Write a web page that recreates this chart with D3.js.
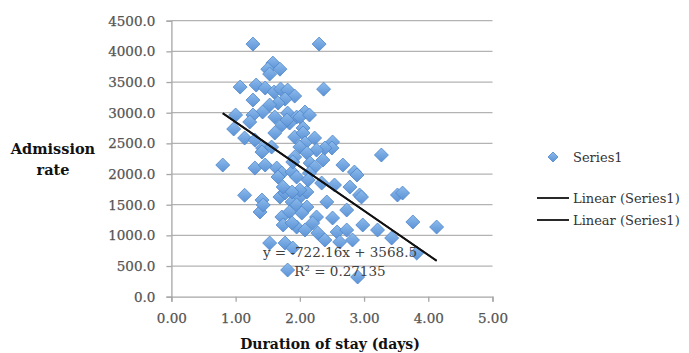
<!DOCTYPE html>
<html><head><meta charset="utf-8">
<script src="https://cdn.jsdelivr.net/npm/d3@7"></script>
<style>body{margin:0;background:#fff}svg{display:block}</style>
</head><body>
<script>
const duration = [0.80,1.27,2.30,2.37,1.07,1.00,0.97,1.58,1.50,1.69,1.53,1.32,1.46,1.60,1.70,1.81,1.92,1.77,1.27,1.66,1.53,1.42,1.27,1.61,1.81,1.95,1.22,1.84,1.72,2.08,2.00,2.05,2.15,1.14,1.61,1.80,1.92,2.05,2.23,2.08,2.51,2.50,2.39,2.26,2.00,1.42,1.30,1.30,1.46,1.64,1.72,1.88,2.11,2.16,2.36,2.23,2.67,2.85,3.27,1.14,1.41,1.38,1.69,1.77,1.88,2.00,2.11,1.72,1.84,1.95,2.11,2.03,2.26,2.42,2.20,1.95,2.08,2.28,2.39,2.51,2.73,2.58,2.73,2.82,2.62,2.98,3.21,3.43,2.93,2.78,2.89,3.52,1.53,1.77,1.89,1.81,2.90,3.60,3.76,4.13,3.82,2.96,2.34,2.15,1.92,1.95,2.13,2.00,1.89,2.54,1.41,1.56,1.66,1.74,1.88,1.43,1.74,1.88];
const admission = [2147,4119,4119,3384,3418,2962,2734,3809,3710,3710,3630,3451,3402,3337,3386,3369,3271,3222,3206,3157,3125,3011,2962,2929,2994,2929,2848,2831,2800,3011,2929,2750,2962,2587,2669,2880,2603,2669,2587,2505,2522,2424,2424,2391,2440,2424,2554,2098,2147,2098,2016,2033,2342,2179,2228,2114,2147,2033,2310,1654,1576,1381,1625,1690,1544,1625,1707,1299,1381,1495,1462,1364,1299,1544,1201,1136,1087,1038,924,1283,1413,1054,1087,924,892,1169,1087,957,1658,1788,1984,1658,875,875,794,435,321,1690,1218,1136,712,1625,1853,2016,2277,1951,1902,1739,2196,1821,2359,2440,1951,1788,1707,1495,1169,1201];
const yTicks = [0,500,1000,1500,2000,2500,3000,3500,4000,4500];
const xTicks = [0,1,2,3,4,5];
const slope = -722.16, intercept = 3568.5;
const eqLabel = "y = -722.16x + 3568.5";
const r2Label = "R² = 0.27135";
const legendLabels = ["Series1","Linear (Series1)","Linear (Series1)"];
const xTitle = "Duration of stay (days)";
const yTitle = ["Admission","rate"];

const W=689,H=353;
const svg=d3.select("body").append("svg").attr("width",W).attr("height",H);
const x=d3.scaleLinear().domain([0,5]).range([171.4,492.5]);
const y=d3.scaleLinear().domain([0,4500]).range([296.7,20.7]);
const serif="'DejaVu Serif', serif";

// gridlines
svg.append("g").selectAll("line").data(yTicks.filter(d=>d>0)).join("line")
 .attr("x1",x(0)).attr("x2",x(5)).attr("y1",d=>y(d)).attr("y2",d=>y(d))
 .attr("stroke","#b3b3b3").attr("stroke-width",1.3);

// axes
const ya=svg.append("g").attr("transform",`translate(${x(0)},0)`)
 .call(d3.axisLeft(y).tickValues(yTicks).tickFormat(d3.format(".1f")).tickSize(5).tickPadding(11));
const xa=svg.append("g").attr("transform",`translate(0,${y(0)})`)
 .call(d3.axisBottom(x).tickValues(xTicks).tickFormat(d3.format(".2f")).tickSize(5).tickPadding(12));
[ya,xa].forEach(g=>{
 g.select(".domain").attr("stroke","#a6a6a6").attr("stroke-width",1.3);
 g.selectAll(".tick line").attr("stroke","#a6a6a6").attr("stroke-width",1.3);
 g.selectAll("text").attr("font-family",serif).attr("font-size",13.5).attr("fill","#555")
  .attr("stroke","#555").attr("stroke-width",0.25);
});

// points
const pts=duration.map((d,i)=>[d,admission[i]]);
const r=7;
const diamond=(cx,cy,s)=>`M${cx},${cy-s}L${cx+s},${cy}L${cx},${cy+s}L${cx-s},${cy}Z`;
const defs=svg.append("defs");
const grad=defs.append("linearGradient").attr("id","dg").attr("x1",0).attr("y1",0).attr("x2",0).attr("y2",1);
grad.append("stop").attr("offset","0%").attr("stop-color","#8dbbec");
grad.append("stop").attr("offset","100%").attr("stop-color","#5b92d6");
svg.append("g").selectAll("path").data(pts).join("path")
 .attr("d",d=>diamond(x(d[0]),y(d[1]),r))
 .attr("fill","url(#dg)").attr("stroke","#4f86c9").attr("stroke-width",0.8);

// trendline (two identical)
const xmin=d3.min(duration), xmax=d3.max(duration);
for(let k=0;k<2;k++){
 svg.append("line").attr("x1",x(xmin)).attr("y1",y(slope*xmin+intercept))
  .attr("x2",x(xmax)).attr("y2",y(slope*xmax+intercept))
  .attr("stroke","#111").attr("stroke-width",1.8);
}

// equation
svg.append("text").attr("x",340).attr("y",257).attr("text-anchor","middle")
 .attr("font-family",serif).attr("font-size",13.5).attr("fill","#404040").text(eqLabel);
svg.append("text").attr("x",340).attr("y",276).attr("text-anchor","middle")
 .attr("font-family",serif).attr("font-size",13.5).attr("fill","#404040").text(r2Label);

// titles
svg.append("text").attr("x",330).attr("y",349).attr("text-anchor","middle")
 .attr("font-family",serif).attr("font-weight","bold").attr("font-size",14).attr("fill","#111").text(xTitle);
svg.append("text").attr("x",53).attr("y",154).attr("text-anchor","middle")
 .attr("font-family",serif).attr("font-weight","bold").attr("font-size",14.5).attr("fill","#111").text(yTitle[0]);
svg.append("text").attr("x",53).attr("y",175).attr("text-anchor","middle")
 .attr("font-family",serif).attr("font-weight","bold").attr("font-size",14.5).attr("fill","#111").text(yTitle[1]);

// legend
const lg=svg.append("g");
lg.append("path").attr("d",diamond(553,157,5)).attr("fill","url(#dg)").attr("stroke","#4f86c9").attr("stroke-width",0.8);
[198,220].forEach(yy=>lg.append("line").attr("x1",537).attr("x2",569).attr("y1",yy).attr("y2",yy).attr("stroke","#111").attr("stroke-width",1.8));
[157,198,220].forEach((yy,i)=>lg.append("text").attr("x",573).attr("y",yy).attr("dy","0.35em")
 .attr("font-family",serif).attr("font-size",13).attr("fill","#333").text(legendLabels[i]));
</script>
</body></html>
